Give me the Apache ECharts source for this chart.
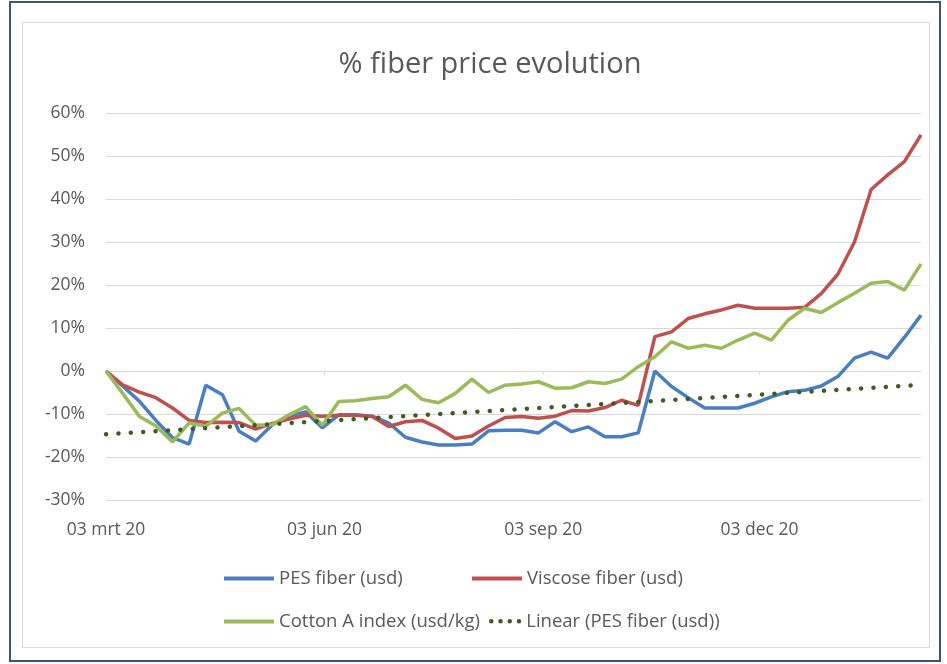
<!DOCTYPE html>
<html>
<head>
<meta charset="utf-8">
<script src="https://cdn.jsdelivr.net/npm/echarts@6/dist/echarts.min.js"></script>
<style>
html,body{margin:0;padding:0;background:#fff;}
#chart{width:947px;height:664px;}
</style>
</head>
<body>
<div id="chart"></div>
<script>
const dates = ['2020-03-03','2020-03-10','2020-03-17','2020-03-24','2020-03-31','2020-04-07','2020-04-14','2020-04-21','2020-04-28','2020-05-05','2020-05-12','2020-05-19','2020-05-26','2020-06-02','2020-06-09','2020-06-16','2020-06-23','2020-06-30','2020-07-07','2020-07-14','2020-07-21','2020-07-28','2020-08-04','2020-08-11','2020-08-18','2020-08-25','2020-09-01','2020-09-08','2020-09-15','2020-09-22','2020-09-29','2020-10-06','2020-10-13','2020-10-20','2020-10-27','2020-11-03','2020-11-10','2020-11-17','2020-11-24','2020-12-01','2020-12-08','2020-12-15','2020-12-22','2020-12-29','2021-01-05','2021-01-12','2021-01-19','2021-01-26','2021-02-02','2021-02-09'];
const pes = [0,-3.5,-7,-11.5,-15.5,-17,-3.3,-5.5,-14,-16.3,-12.5,-10.5,-9.5,-13.2,-10.2,-10.2,-10.5,-12.1,-15.4,-16.5,-17.2,-17.2,-17,-13.9,-13.8,-13.8,-14.4,-11.8,-14.1,-13,-15.3,-15.3,-14.4,0,-3.6,-6.2,-8.6,-8.6,-8.6,-7.5,-6,-4.8,-4.5,-3.5,-1.3,3,4.4,3,7.8,13];
const viscose = [0,-3.2,-4.9,-6.2,-8.6,-11.5,-12,-11.9,-12,-13.5,-12.2,-11.2,-10.3,-10.5,-10.3,-10.3,-10.6,-12.9,-11.8,-11.5,-13.3,-15.7,-15.1,-12.8,-10.8,-10.6,-11,-10.5,-9.2,-9.3,-8.5,-6.8,-8,8,9.1,12.2,13.3,14.2,15.3,14.6,14.6,14.6,14.8,18,22.5,30,42.2,45.6,48.7,54.9];
const cotton = [0,-5.2,-10.5,-12.8,-16.5,-12.1,-12.8,-9.8,-8.7,-12.6,-12.5,-10.2,-8.3,-12.6,-7.1,-6.9,-6.4,-6,-3.3,-6.6,-7.4,-5.2,-1.9,-5,-3.3,-3,-2.5,-4,-3.9,-2.5,-2.9,-1.9,1,3.3,6.8,5.3,6,5.3,7.2,8.8,7.2,11.8,14.6,13.6,15.9,18.1,20.4,20.8,18.8,24.9];
const trendDates = ['2020-03-03','2021-02-09'];
const trendValues = [-14.7,-3.2];
const xTickDates = ['2020-03-03','2020-06-03','2020-09-03','2020-12-03'];
const xTickLabels = ['03 mrt 20','03 jun 20','03 sep 20','03 dec 20'];
const seriesNames = ['PES fiber (usd)','Viscose fiber (usd)','Cotton A index (usd/kg)','Linear (PES fiber (usd))'];
const chartTitle = '% fiber price evolution';

const DAY = 86400000;
function toDay(s){ const p = s.split('-'); return Math.round(Date.UTC(+p[0], +p[1]-1, +p[2]) / DAY); }
const tickDays = xTickDates.map(toDay);
const pairs = (xs, ys) => xs.map((d,i)=>[toDay(d), ys[i]]);

const FONT = 'Open Sans';
const TXT = '#595959';
const xMin = toDay(dates[0]), xMax = toDay(dates[dates.length-1]);
const DOTS = 'path://M0,2.25a2.25,2.25 0 1,0 4.5,0a2.25,2.25 0 1,0 -4.5,0Z M9.25,2.25a2.25,2.25 0 1,0 4.5,0a2.25,2.25 0 1,0 -4.5,0Z M18.5,2.25a2.25,2.25 0 1,0 4.5,0a2.25,2.25 0 1,0 -4.5,0Z M27.75,2.25a2.25,2.25 0 1,0 4.5,0a2.25,2.25 0 1,0 -4.5,0Z';

const chart = echarts.init(document.getElementById('chart'));
const legendBase = (name, left, top, icon, w, h) => ({
  data:[{name:name, icon:icon}], left:left, top:top, padding:0, itemWidth:w, itemHeight:h,
  textStyle:{color:TXT, fontFamily:FONT, fontSize:18.5}, selectedMode:false
});
chart.setOption({
  backgroundColor:'#fff',
  animation:false,
  graphic:[
    {type:'rect', shape:{x:10,y:2,width:930,height:659}, style:{fill:'none', stroke:'#3f5372', lineWidth:2}},
    {type:'rect', shape:{x:22.5,y:22.5,width:907,height:625}, style:{fill:'none', stroke:'#d9d9d9', lineWidth:1}},
    {type:'text', x:490, y:65, style:{text:chartTitle, fill:TXT, font:'normal 29px "Open Sans"', textAlign:'center', textVerticalAlign:'middle'}}
  ],
  legend:[
    legendBase(seriesNames[0], 224, 569, 'rect', 50, 4),
    legendBase(seriesNames[1], 472, 569, 'rect', 50, 4),
    legendBase(seriesNames[2], 224, 612, 'rect', 50, 4),
    legendBase(seriesNames[3], 489, 611.75, DOTS, 32.25, 4.5)
  ],
  grid:{left:106, right:26, top:113, bottom:164},
  xAxis:[{
    type:'value', min:xMin, max:xMax, position:'bottom',
    axisLine:{show:false, onZero:false}, axisTick:{show:false}, splitLine:{show:false},
    axisLabel:{customValues:tickDays, color:TXT, fontFamily:FONT, fontSize:17.5, margin:21, hideOverlap:false,
      showMinLabel:true,
      formatter:function(v){ const i = tickDays.indexOf(Math.round(v)); return i>=0 ? xTickLabels[i] : ''; }}
  },{
    type:'value', min:xMin, max:xMax, position:'top',
    axisLine:{show:true, onZero:true, lineStyle:{color:'#d9d9d9', width:1}},
    axisTick:{show:true, inside:true, length:4, customValues:tickDays, lineStyle:{color:'#d9d9d9'}},
    axisLabel:{show:false}, splitLine:{show:false}
  }],
  yAxis:{
    type:'value', min:-30, max:60, interval:10,
    axisLine:{show:false}, axisTick:{show:false},
    splitLine:{lineStyle:{color:'#d9d9d9', width:1}},
    axisLabel:{formatter:'{value}%', color:TXT, fontFamily:FONT, fontSize:17.5, margin:21}
  },
  series:[
    {name:seriesNames[0], type:'line', data:pairs(dates,pes), showSymbol:false, symbol:'none',
      lineStyle:{color:'#4a7ec2', width:3.5}, itemStyle:{color:'#4a7ec2'}},
    {name:seriesNames[1], type:'line', data:pairs(dates,viscose), showSymbol:false, symbol:'none',
      lineStyle:{color:'#c0504d', width:3.5}, itemStyle:{color:'#c0504d'}},
    {name:seriesNames[2], type:'line', data:pairs(dates,cotton), showSymbol:false, symbol:'none',
      lineStyle:{color:'#9bbb59', width:3.5}, itemStyle:{color:'#9bbb59'}},
    {name:seriesNames[3], type:'line', data:pairs(trendDates,trendValues), showSymbol:false, symbol:'none',
      lineStyle:{color:'#3f5a22', width:4.5, type:[0.1,12.3], cap:'round'}, itemStyle:{color:'#3f5a22'}}
  ]
});
</script>
</body>
</html>
